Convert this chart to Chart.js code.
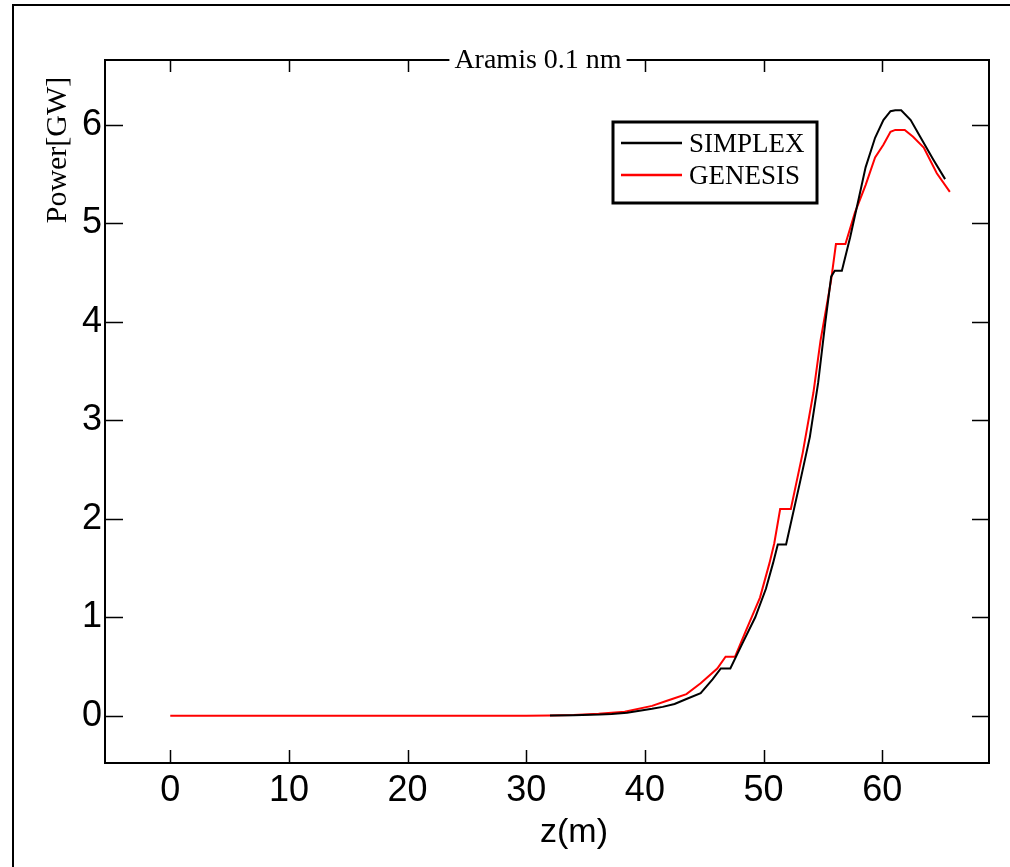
<!DOCTYPE html>
<html>
<head>
<meta charset="utf-8">
<script src="https://cdn.jsdelivr.net/npm/chart.js@4.4.1/dist/chart.umd.min.js"></script>
<style>
  html, body { margin: 0; padding: 0; background: #fff; }
  #grafico { display: block; }
</style>
</head>
<body>
<canvas id="grafico" width="1010" height="867"></canvas>
<script>
// Datos (z en metros, potencia en GW)
const simplexZ = [32, 34, 36.2, 37.2, 38.5, 40.6, 41.5, 42.5, 43.5, 44.7, 45.7, 46.4, 47.2, 48.2, 49.3, 50.2, 50.8, 51.2, 51.9, 53.05, 53.9, 54.6, 55.2, 55.7, 56.0, 56.6, 57.3, 58.0, 58.6, 59.4, 60.1, 60.7, 61.1, 61.6, 62.4, 63.2, 64.3, 65.3];
const simplexP = [0.003, 0.006, 0.012, 0.018, 0.03, 0.07, 0.09, 0.12, 0.17, 0.23, 0.37, 0.48, 0.48, 0.73, 1.0, 1.29, 1.55, 1.74, 1.74, 2.36, 2.83, 3.38, 3.99, 4.46, 4.52, 4.52, 4.86, 5.24, 5.57, 5.87, 6.05, 6.14, 6.15, 6.15, 6.05, 5.88, 5.65, 5.45];

const genesisZ = [0, 5, 10, 15, 20, 25, 30, 32, 34, 36.1, 38.3, 40.6, 41.8, 42.3, 43.5, 44.7, 46.1, 46.8, 47.6, 48.5, 49.7, 50.5, 50.9, 51.4, 52.3, 53.3, 54.2, 54.8, 55.4, 55.7, 56.1, 56.9, 57.7, 58.6, 59.4, 60.1, 60.7, 61.1, 61.9, 62.6, 63.5, 64.6, 65.7];
const genesisP = [0, 0, 0, 0, 0, 0, 0.001, 0.003, 0.008, 0.02, 0.04, 0.1, 0.15, 0.17, 0.22, 0.33, 0.48, 0.6, 0.6, 0.86, 1.2, 1.55, 1.75, 2.1, 2.1, 2.67, 3.28, 3.81, 4.22, 4.43, 4.79, 4.79, 5.11, 5.39, 5.67, 5.80, 5.93, 5.95, 5.95, 5.88, 5.77, 5.51, 5.32];

const ticksX = [0, 10, 20, 30, 40, 50, 60];
const ticksY = [0, 1, 2, 3, 4, 5, 6];

const fuenteNum = '"Liberation Sans", Arial, sans-serif';
const fuenteSerif = '"Liberation Serif", "DejaVu Serif", serif';

function aPuntos(xs, ys) {
    return xs.map((x, i) => ({ x: x, y: ys[i] }));
}

// Plugin para marco, marcas interiores, titulo, etiquetas y leyenda
const decoraciones = {
    id: 'decoraciones',
    afterDraw(chart) {
        const ctx = chart.ctx;
        const a = chart.chartArea;
        const sx = chart.scales.x;
        const sy = chart.scales.y;
        ctx.save();
        ctx.strokeStyle = '#000';
        ctx.fillStyle = '#000';

        // marco exterior de la figura
        ctx.lineWidth = 2;
        ctx.beginPath();
        ctx.moveTo(13, 867);
        ctx.lineTo(13, 5);
        ctx.lineTo(1010, 5);
        ctx.stroke();

        // caja de los ejes
        ctx.lineWidth = 2;
        ctx.strokeRect(a.left, a.top, a.right - a.left, a.bottom - a.top);

        // marcas hacia adentro
        ctx.lineWidth = 1.5;
        ctx.beginPath();
        ticksX.forEach(v => {
            const px = Math.round(sx.getPixelForValue(v)) + 0.5;
            ctx.moveTo(px, a.bottom);
            ctx.lineTo(px, a.bottom - 13);
            ctx.moveTo(px, a.top);
            ctx.lineTo(px, a.top + 12);
        });
        ticksY.forEach(v => {
            const py = Math.round(sy.getPixelForValue(v)) + 0.5;
            ctx.moveTo(a.left, py);
            ctx.lineTo(a.left + 18, py);
            ctx.moveTo(a.right, py);
            ctx.lineTo(a.right - 17, py);
        });
        ctx.stroke();

        // titulo sobre el borde superior
        ctx.font = '28px ' + fuenteSerif;
        ctx.textAlign = 'center';
        ctx.textBaseline = 'middle';
        const titulo = 'Aramis 0.1 nm';
        const anchoT = ctx.measureText(titulo).width;
        ctx.fillStyle = '#fff';
        ctx.fillRect(538 - anchoT / 2 - 5, a.top - 16, anchoT + 10, 32);
        ctx.fillStyle = '#000';
        ctx.fillText(titulo, 538, a.top + 1);

        // etiqueta del eje y
        ctx.save();
        ctx.translate(58, 150);
        ctx.rotate(-Math.PI / 2);
        ctx.font = '30px ' + fuenteSerif;
        ctx.fillText('Power[GW]', 0, 0);
        ctx.restore();

        // etiqueta del eje x
        ctx.font = '34px ' + fuenteNum;
        ctx.fillText('z(m)', 574, 833);

        // leyenda
        ctx.lineWidth = 3;
        ctx.strokeRect(613, 122, 204, 81);
        ctx.font = '27px ' + fuenteSerif;
        ctx.textAlign = 'left';
        const filas = [143, 175];
        chart.data.datasets.forEach((ds, i) => {
            ctx.strokeStyle = ds.borderColor;
            ctx.lineWidth = 2.5;
            ctx.beginPath();
            ctx.moveTo(621, filas[i]);
            ctx.lineTo(682, filas[i]);
            ctx.stroke();
            ctx.fillStyle = '#000';
            ctx.fillText(ds.label, 689, filas[i] + 2);
        });
        ctx.restore();
    }
};

const ctx = document.getElementById('grafico').getContext('2d');
new Chart(ctx, {
    type: 'line',
    data: {
        datasets: [
            {
                label: 'SIMPLEX',
                data: aPuntos(simplexZ, simplexP),
                borderColor: '#000000',
                borderWidth: 2,
                pointRadius: 0,
                tension: 0
            },
            {
                label: 'GENESIS',
                data: aPuntos(genesisZ, genesisP),
                borderColor: '#ff0000',
                borderWidth: 2,
                pointRadius: 0,
                tension: 0
            }
        ]
    },
    options: {
        responsive: false,
        animation: false,
        layout: { padding: { left: 0, top: 60, right: 21, bottom: 0 } },
        plugins: {
            legend: { display: false },
            tooltip: { enabled: false }
        },
        scales: {
            x: {
                type: 'linear',
                min: -5.5,
                max: 69,
                afterBuildTicks: s => { s.ticks = ticksX.map(v => ({ value: v })); },
                afterFit: s => { s.height = 104; },
                grid: { display: false, drawTicks: false },
                border: { display: false },
                ticks: {
                    color: '#000',
                    padding: 6,
                    maxRotation: 0,
                    font: { family: fuenteNum, size: 36 }
                }
            },
            y: {
                type: 'linear',
                min: -0.48,
                max: 6.66,
                afterBuildTicks: s => { s.ticks = ticksY.map(v => ({ value: v })); },
                afterFit: s => { s.width = 105; },
                grid: { display: false, drawTicks: false },
                border: { display: false },
                ticks: {
                    color: '#000',
                    padding: 3,
                    font: { family: fuenteNum, size: 36 }
                }
            }
        }
    },
    plugins: [decoraciones]
});
</script>
</body>
</html>
